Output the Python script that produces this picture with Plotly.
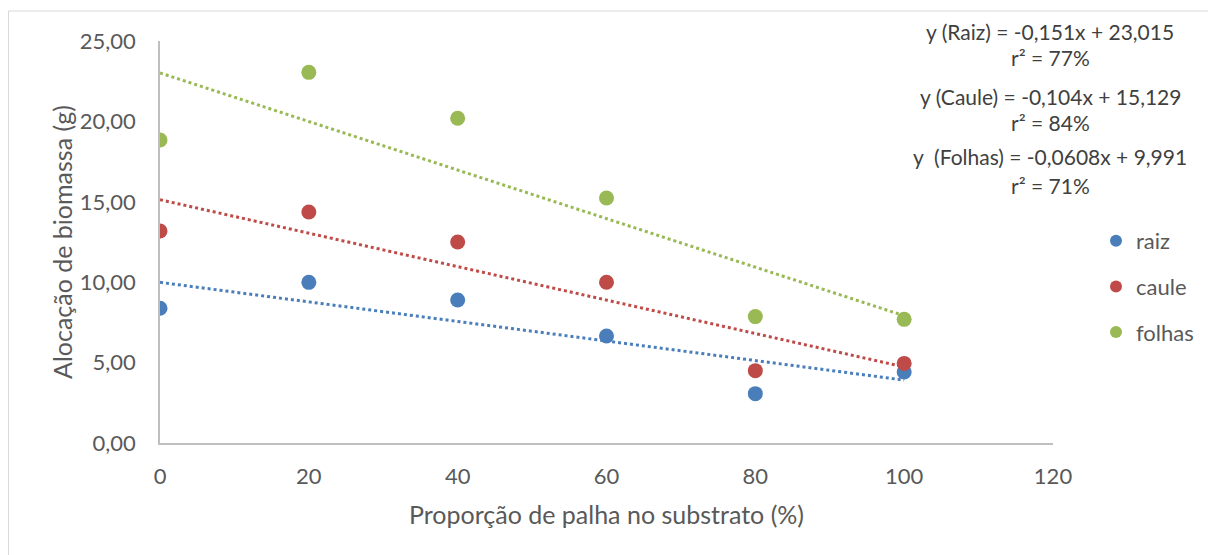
import plotly.graph_objects as go
import numpy as np

x_vals = [0, 20, 40, 60, 80, 100]
raiz = [8.38, 9.99, 8.89, 6.65, 3.07, 4.42]
caule = [13.18, 14.37, 12.50, 10.00, 4.50, 4.95]
folhas = [18.84, 23.05, 20.20, 15.24, 7.86, 7.69]

series_names = ["raiz", "caule", "folhas"]
series_colors = ["#4a7ebb", "#be4b48", "#98b954"]
# trend line coefficients as printed on the chart (slope, intercept), drawn per series colour
trend_slopes = [-0.0608, -0.104, -0.151]
trend_intercepts = [9.991, 15.129, 23.015]

eq_lines = [
    "y (Raiz) = -0,151x + 23,015",
    "r² = 77%",
    "y (Caule) = -0,104x + 15,129",
    "r² = 84%",
    "y  (Folhas) = -0,0608x + 9,991",
    "r² = 71%",
]
eq_pixel_y = [23, 50, 88, 114, 148, 177]

FONT = "Lato"
W, H = 1216, 555
L, R, T, B = 152, 1045, 33, 435
pw, ph = R - L, B - T

fig = go.Figure()
data = [raiz, caule, folhas]
for name, col, ys, m, b in zip(series_names, series_colors, data, trend_slopes, trend_intercepts):
    tx = np.array([x_vals[0], x_vals[-1]], dtype=float)
    fig.add_trace(go.Scatter(x=tx, y=m * tx + b, mode="lines",
                             line=dict(color=col, width=3, dash="dot"),
                             showlegend=False, hoverinfo="skip"))
for name, col, ys in zip(series_names, series_colors, data):
    fig.add_trace(go.Scatter(x=x_vals, y=ys, mode="markers", name=name,
                             legendgroup=name,
                             marker=dict(color=col, size=15)))

for txt, py in zip(eq_lines, eq_pixel_y):
    fig.add_annotation(x=(1042 - L) / pw, y=(B - py) / ph, xref="paper", yref="paper",
                       text=txt, showarrow=False, xanchor="center", yanchor="middle",
                       font=dict(family=FONT, size=21, color="#404040"))

# y-axis title
fig.add_annotation(x=(54 - L) / pw, y=0.5, xref="paper", yref="paper",
                   text="Alocação de biomassa (g)", textangle=-90, showarrow=False,
                   xanchor="center", yanchor="middle",
                   font=dict(family=FONT, size=25, color="#595959"))

fig.add_shape(type="rect", xref="paper", yref="paper",
              x0=(0.5 - L) / pw, x1=(1207 - L) / pw, y0=(B - 600) / ph, y1=(B - 3) / ph,
              line=dict(color="#d9d9d9", width=1), fillcolor="rgba(0,0,0,0)", layer="below")

fig.update_layout(
    width=W, height=H,
    margin=dict(l=L, r=W - R, t=T, b=H - B),
    paper_bgcolor="white", plot_bgcolor="white",
    separators=",.",
    font=dict(family=FONT, color="#595959"),
    showlegend=True,
    legend=dict(x=(1088 - L) / pw, y=(B - 212) / ph, xanchor="left", yanchor="top",
                font=dict(family=FONT, size=22, color="#595959"),
                tracegroupgap=14, itemsizing="constant", bgcolor="rgba(0,0,0,0)"),
    xaxis=dict(range=[0, 120], tickvals=[0, 20, 40, 60, 80, 100, 120],
               showgrid=False, zeroline=False, showline=True, linecolor="#bfbfbf", linewidth=1.5,
               ticks="outside", ticklen=13, tickcolor="rgba(0,0,0,0)",
               tickfont=dict(family=FONT, size=22, color="#595959"),
               title=dict(text="Proporção de palha no substrato (%)", standoff=18,
                          font=dict(family=FONT, size=25, color="#595959"))),
    yaxis=dict(range=[0, 25], tickvals=[0, 5, 10, 15, 20, 25], tickformat=".2f",
               showgrid=False, zeroline=False, showline=True, linecolor="#bfbfbf", linewidth=1.5,
               ticks="outside", ticklen=18, tickcolor="rgba(0,0,0,0)",
               tickfont=dict(family=FONT, size=22, color="#595959")),
)

fig.write_html("out.html")
